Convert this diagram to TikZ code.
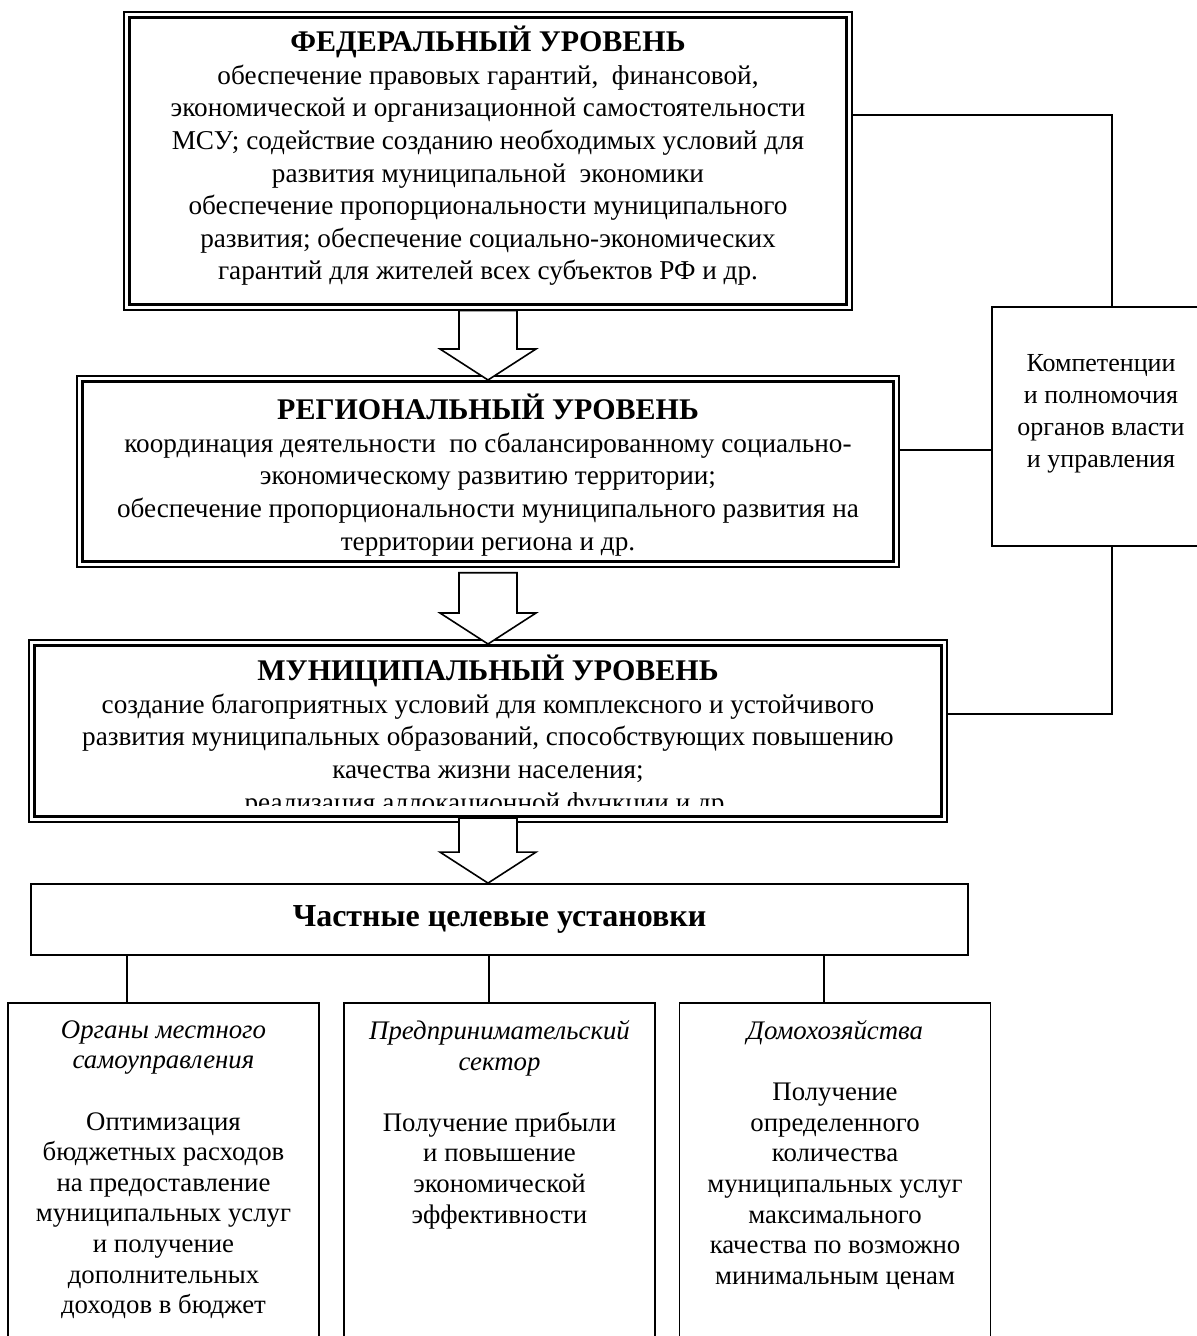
\documentclass[tikz,border=0pt]{standalone}
\usepackage{fontspec}
\setmainfont{Liberation Serif}
\usetikzlibrary{positioning,fit,calc}

\newcommand\bodyfont{\fontsize{13.6}{16.3}\selectfont}
\newcommand\headfont{\fontsize{15}{16.3}\selectfont\bfseries}
\newcommand\leaffont{\fontsize{13.4}{15.3}\selectfont}

\tikzset{
  level/.style={draw, line width=1.5pt, inner sep=0pt},
  levelframe/.style={draw, line width=0.9pt, fit=#1, inner sep=1.9pt},
  leveltext/.style={align=center, inner sep=0pt, font=\bodyfont},
  box/.style={draw, line width=0.9pt, inner sep=0pt, align=center},
  leaftext/.style={align=center, inner sep=0pt, font=\leaffont},
  link/.style={line width=0.8pt},
  hollow/.style={draw, fill=white, line width=0.8pt}
}

\begin{document}
\begin{tikzpicture}[x=0.5pt, y=-0.5pt]
\clip (0,0) rectangle (1197,1336);
\node[level, minimum width=358.5pt, minimum height=143.5pt] (fed) at (488,161) {};
\node[leveltext] (fedtext) at (488,156) {{\headfont ФЕДЕРАЛЬНЫЙ УРОВЕНЬ}\\ обеспечение правовых гарантий,\ \ финансовой,\\ экономической и организационной самостоятельности\\ МСУ; содействие созданию необходимых условий для\\ развития муниципальной\ \ экономики\\ обеспечение пропорциональности муниципального\\ развития; обеспечение социально-экономических\\ гарантий для жителей всех субъектов РФ и др.};
\node[level, minimum width=405.5pt, minimum height=90pt] (reg) at (488,471.5) {};
\node[leveltext] (regtext) at (488,475) {{\headfont РЕГИОНАЛЬНЫЙ УРОВЕНЬ}\\ координация деятельности\ \ по сбалансированному социально-\\ экономическому развитию территории;\\ обеспечение пропорциональности муниципального развития на\\ территории региона и др.};
\node[level, minimum width=453.5pt, minimum height=85.5pt] (mun) at (488,731) {};
\begin{scope}
\clip (34.5,645.5) rectangle (941.5,805);
\node[leveltext] (muntext) at (488,736) {{\headfont МУНИЦИПАЛЬНЫЙ УРОВЕНЬ}\\ создание благоприятных условий для комплексного и устойчивого\\ развития муниципальных образований, способствующих повышению\\ качества жизни населения;\\ реализация аллокационной функции и др.};
\end{scope}

\node[box, minimum width=110pt, minimum height=119.5pt] (comp) at (1102,426.5) {};
\node[align=center, inner sep=0pt, font=\fontsize{13}{16}\selectfont] (comptext) at (1101,414) {Компетенции\\ и полномочия\\ органов власти\\ и управления};

\node[box, minimum width=468.5pt, minimum height=35.5pt, font=\fontsize{16}{18}\selectfont\bfseries] (goals) at (499.5,919.5) {Частные целевые установки};
\foreach \n/\x in {org/163.5, biz/499.5, home/835}
  \node[box, minimum width=155.5pt, minimum height=173.5pt] (\n) at (\x,1176.5) {};
\node[leaftext, below=9pt of org.north] (orgtext) {{\itshape Органы местного}\\ {\itshape самоуправления}\\[15.3pt] Оптимизация\\ бюджетных расходов\\ на предоставление\\ муниципальных услуг\\ и получение\\ дополнительных\\ доходов в бюджет};
\node[leaftext, below=9pt of biz.north] (biztext) {{\itshape Предпринимательский}\\ {\itshape сектор}\\[15.3pt] Получение прибыли\\ и повышение\\ экономической\\ эффективности};
\node[leaftext, below=9pt of home.north] (hometext) {{\itshape Домохозяйства}\\[15.3pt] Получение\\ определенного\\ количества\\ муниципальных услуг\\ максимального\\ качества по возможно\\ минимальным ценам};

\foreach \a in {fed, reg, mun}
  \node[levelframe=(\a)] (frame-\a) {};
\foreach \a/\s/\b in {frame-fed/0/reg, frame-reg/-2.5/mun, mun/0/goals} {
  \coordinate (top) at ([yshift=\s pt]\a.south);
  \coordinate (tip) at (top |- \b.north);
  \draw[hollow] ($(top)+(-29,0)$) -- ($(tip)+(-29,-31)$) -- ($(tip)+(-48,-31)$) -- (tip)
    -- ($(tip)+(48,-31)$) -- ($(tip)+(29,-31)$) -- ($(top)+(29,0)$) -- cycle;
}

\coordinate (c1) at (1112,115);
\coordinate (c2) at (1112,450);
\coordinate (c3) at (1112,714);
\draw[link] (c1 -| frame-fed.east) -- (c1) -- (c1 |- comp.north);
\draw[link] (c2 -| frame-reg.east) -- (c2 -| comp.west);
\draw[link] (c3 -| frame-mun.east) -- (c3) -- (c3 |- comp.south);
\foreach \n/\x in {org/127, biz/489, home/824} {
  \coordinate (l\n) at (\x,0);
  \draw[link] (l\n |- goals.south) -- (l\n |- \n.north);
}
\end{tikzpicture}
\end{document}
